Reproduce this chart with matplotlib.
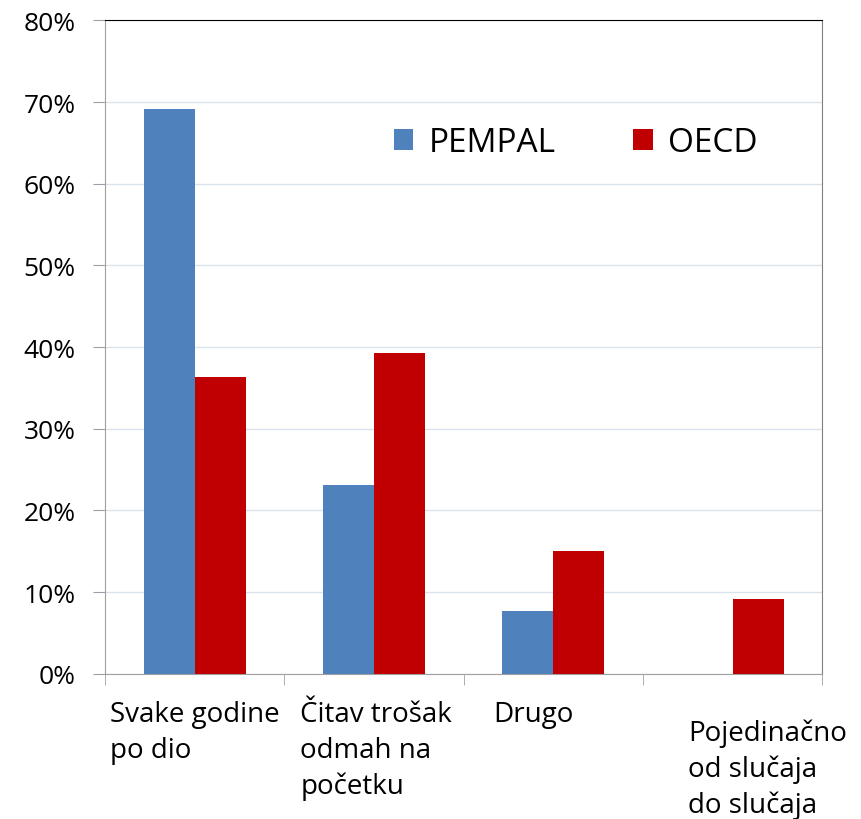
import numpy as np
import matplotlib
matplotlib.use('Agg')
import matplotlib.pyplot as plt
from matplotlib.ticker import PercentFormatter, FixedLocator

plt.rcParams['font.family'] = ['Open Sans', 'DejaVu Sans']

# --- podaci ---
kategorije = ['Svake godine\npo dio', 'Čitav trošak\nodmah na\npočetku', 'Drugo',
              'Pojedinačno\nod slučaja\ndo slučaja']
pempal = [69.2, 23.1, 7.7, 0.0]
oecd = [36.3, 39.3, 15.1, 9.2]

# pomak natpisa (lijevi rub) u odnosu na sredinu kategorije, i spuštanje
pomak_x = [-0.47, -0.41, -0.335, -0.246]
pomak_y = [0.0, 0.0, 0.0, 13]

x = np.arange(len(kategorije))
w = 0.285

fig = plt.figure(figsize=(8.61, 8.20), dpi=100)
ax = fig.add_axes([0.122, 0.177, 0.833, 0.797])

ax.bar(x - w / 2, pempal, w, color='#4F81BD', label='PEMPAL', zorder=3)
ax.bar(x + w / 2, oecd, w, color='#C00000', label='OECD', zorder=3)

ax.set_xlim(-0.5, len(kategorije) - 0.5)
ax.set_ylim(0, 80)
ax.set_yticks(np.arange(0, 81, 10))
ax.yaxis.set_major_formatter(PercentFormatter(decimals=0))
ax.yaxis.grid(True, color='#D9E2EE', lw=1, zorder=0)
ax.tick_params(axis='y', labelsize=19, length=9, color='#A0A0A0', direction='out', pad=12)

ax.set_xticks([])
ax.xaxis.set_minor_locator(FixedLocator(np.arange(-0.5, len(kategorije), 1.0)))
ax.tick_params(axis='x', which='minor', length=8, color='#A0A0A0', direction='out')

for s in ['left', 'bottom']:
    ax.spines[s].set_color('#A0A0A0')
ax.spines['top'].set_color('black')
ax.spines['right'].set_color('#808080')

for i, lab in enumerate(kategorije):
    ax.annotate(lab, xy=(i + pomak_x[i], 0), xycoords=('data', 'axes fraction'),
                xytext=(0, -19 - pomak_y[i]), textcoords='offset points',
                ha='left', va='top', fontsize=20, linespacing=1.36, multialignment='left')

ax.legend(loc='center', bbox_to_anchor=(0.656, 0.813), ncol=2, frameon=False,
          fontsize=24, handlelength=0.58, handleheight=0.58, handletextpad=0.45,
          columnspacing=2.33)

fig.savefig('out.png', dpi=100)
